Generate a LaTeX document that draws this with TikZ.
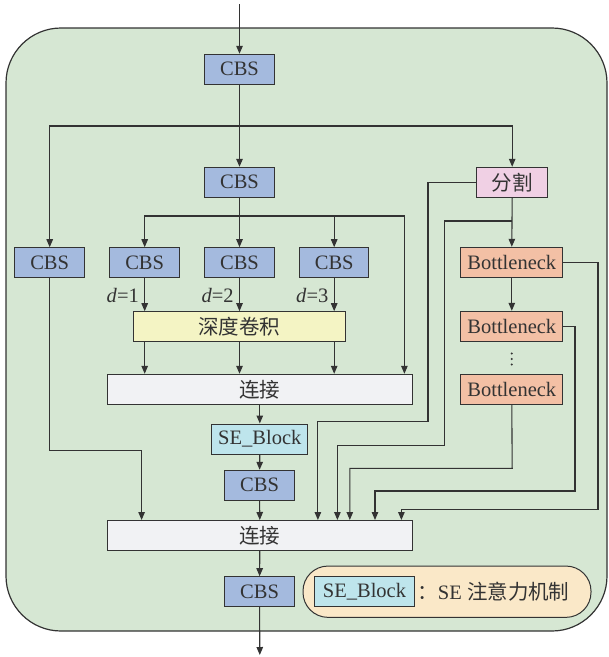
\documentclass[tikz,border=0pt]{standalone}
\usepackage{fontspec}
\setmainfont{Liberation Serif}
\newfontfamily\cjk{Noto Sans CJK SC}
\usetikzlibrary{arrows.meta}
\definecolor{lineGray}{RGB}{51,51,51}
\definecolor{bgGreen}{RGB}{214,231,211}
\definecolor{cbsBlue}{RGB}{164,186,222}
\definecolor{splitPink}{RGB}{240,208,228}
\definecolor{bnSalmon}{RGB}{243,192,165}
\definecolor{dwYellow}{RGB}{244,244,196}
\definecolor{catGray}{RGB}{241,242,244}
\definecolor{seCyan}{RGB}{190,229,236}
\definecolor{legendFill}{RGB}{250,232,200}

\begin{document}
\begin{tikzpicture}[x=1pt, y=-1pt, line width=1.1pt,
  every node/.style={font=\fontsize{20.5}{24}\selectfont, text=lineGray},
  box/.style={draw=lineGray, line width=1pt, inner sep=0pt, minimum height=30pt},
  cbs/.style={box, fill=cbsBlue, minimum width=69.5pt},
  bneck/.style={box, fill=bnSalmon, minimum width=101.7pt},
  concat/.style={box, fill=catGray, minimum width=305.2pt},
  seblock/.style={box, fill=seCyan, minimum width=96pt},
  arr/.style={draw=lineGray, -{Triangle[length=8pt, width=6.5pt]}},
  wire/.style={draw=lineGray}]
  \useasboundingbox (0,0) rectangle (609,657);
  % outer module
  \draw[draw=lineGray, fill=bgGreen, line width=1.2pt, rounded corners=55pt] (6,28) rectangle (607,631);
  % main column
  \node[cbs] (cbsA) at (239.5,69.3) {CBS};
  \node[cbs] (cbsB) at (239.5,182.3) {CBS};
  \node[box, fill=splitPink, minimum width=70.7pt] (split) at (512.2,182.3) {\cjk 分割};
  \node[cbs] (cbsL) at (49.7,262.7) {CBS};
  \node[cbs] (cbsD1) at (144.7,262.7) {CBS};
  \node[cbs] (cbsD2) at (239.5,262.7) {CBS};
  \node[cbs] (cbsD3) at (334.2,262.7) {CBS};
  \node[box, fill=dwYellow, minimum width=212.4pt] (dw) at (239.4,326.7) {\cjk 深度卷积};
  \node[concat] (catA) at (259.8,389.3) {\cjk 连接};
  \node[seblock] (se) at (259.8,439) {SE\_Block};
  \node[cbs] (cbsC) at (259.6,485.3) {CBS};
  \node[concat] (catB) at (259.8,535.5) {\cjk 连接};
  \node[cbs] (cbsE) at (259.6,591.7) {CBS};
  % bottleneck column
  \node[bneck] (bn1) at (511.8,262.3) {Bottleneck};
  \node[bneck] (bn2) at (511.8,326.3) {Bottleneck};
  \node[bneck] (bn3) at (511.8,389.2) {Bottleneck};
  \foreach \y in {353.5,359,364.5}
    \fill[lineGray] (511.8,\y) circle (1.1pt);
  % legend
  \node[draw=lineGray, line width=1pt, fill=legendFill, rounded corners=25pt, minimum width=288pt, minimum height=51.3pt] (legend) at (447,591.7) {};
  \node[seblock, minimum width=99.8pt] (legSE) at (364.5,591.7) {SE\_Block};
  \node[anchor=west, inner sep=0pt] (legText) at ([xshift=2pt]legSE.east) {{\cjk ：}SE {\cjk 注意力机制}};
  % connectors
  \coordinate (in) at (239.5,4);
  \coordinate (out) at (259.8,655);
  \coordinate (forkA) at (239.5,126);
  \coordinate (forkB) at (239.5,216);
  \coordinate (forkS) at (512.2,221);
  \draw[arr] (in) -- (cbsA.north);
  \draw[arr] (cbsA.south) -- (cbsB.north);
  \draw[arr] (forkA) -| (cbsL.north);
  \draw[arr] (forkA) -| (split.north);
  \draw[arr] (cbsB.south) -- (cbsD2.north);
  \draw[arr] (forkB) -| (cbsD1.north);
  \draw[arr] (forkB) -| (cbsD3.north);
  \draw[arr] (forkB) -| ([xshift=-8.5pt]catA.north east);
  \draw[arr] (cbsD1.south) -- node[left, xshift=-2pt, yshift=-1pt]{\textit{d}=1} (cbsD1.south |- dw.north);
  \draw[arr] (cbsD2.south) -- node[left, xshift=-2pt, yshift=-1pt]{\textit{d}=2} (cbsD2.south |- dw.north);
  \draw[arr] (cbsD3.south) -- node[left, xshift=-2pt, yshift=-1pt]{\textit{d}=3} (cbsD3.south |- dw.north);
  \foreach \n in {cbsD1, cbsD2, cbsD3}
    \draw[arr] (dw.south -| \n) -- (catA.north -| \n);
  \draw[arr] (catA.south) -- (se.north);
  \draw[arr] (se.south) -- (cbsC.north);
  \draw[arr] (cbsC.south) -- (catB.north);
  \draw[arr] (catB.south) -- (cbsE.north);
  \draw[arr] (cbsE.south) -- (out);
  % side paths into the second concat
  \draw[arr] (cbsL.south) -- (49.7,450.7) -| ([xshift=34.9pt]catB.north west);
  \draw[arr] (split.west) -| (428,421.7) -| ([xshift=211.2pt]catB.north west);
  \draw[arr] (split.south) -- (bn1.north);
  \draw[arr] (forkS) -| (444.7,445.7) -| ([xshift=230.7pt]catB.north west);
  \draw[arr] (bn1.south) -- (bn2.north);
  \draw[arr] (bn3.south) -- (512.2,468.3) -| ([xshift=243.1pt]catB.north west);
  \draw[arr] (bn2.east) -| (575,491) -| ([xshift=268.3pt]catB.north west);
  \draw[arr] (bn1.east) -| (598,509.3) -| ([xshift=294.7pt]catB.north west);
\end{tikzpicture}
\end{document}
